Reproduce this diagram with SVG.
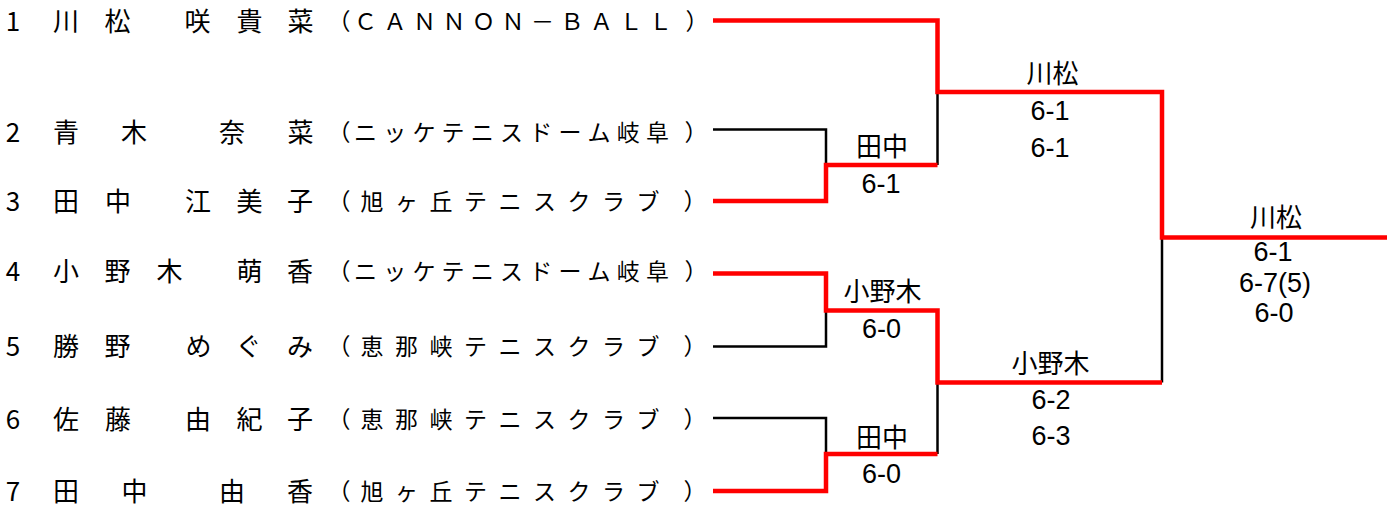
<svg xmlns="http://www.w3.org/2000/svg" width="1397" height="509" viewBox="0 0 1397 509">
<style>
text{font-family:"Noto Sans CJK JP","Noto Sans CJK SC",sans-serif;fill:#000;text-anchor:middle}
.n{font-size:26px}
.c{font-size:23px}
.lb{font-size:26px}
.s{font-family:"Liberation Sans",Arial,sans-serif;font-size:27px}
.l{stroke:#000;stroke-width:2.5;fill:none}
.w{stroke:#f00;stroke-width:4.5;fill:none;stroke-linejoin:miter}
</style>
<rect width="1397" height="509" fill="#fff"/>
<g id="connectors">
<path class="l" d="M713 129.5H826V165"/>
<path class="l" d="M713 346.5H826V310.5"/>
<path class="l" d="M713 418H826V454"/>
<path class="l" d="M937.5 92V165"/>
<path class="l" d="M937.5 382.5V454"/>
<path class="l" d="M1162 237.5V382.5"/>
<path class="w" d="M713 20.5H937.5V92H1162V237.5H1387"/>
<path class="w" d="M713 201H826V165H937.5"/>
<path class="w" d="M713 273.5H826V310.5H937.5V382.5H1162"/>
<path class="w" d="M713 491H826V454H937.5"/>
</g>
<g id="p1">
<text class="n" x="13" y="30.5">1</text>
<text class="n" x="66 117.5 157 197.5 249.5 300.5" y="30.5">川松　咲貴菜</text>
<text class="c" x="339 365.5 395 424.5 454 483.5 513 542.5 572 601.5 631 660.5 697" y="29.5">（ＣＡＮＮＯＮ－ＢＡＬＬ）</text>
</g>
<g id="p2">
<text class="n" x="13" y="142">2</text>
<text class="n" x="66 134 183 232 300.5" y="142">青木　奈菜</text>
<text class="c" x="339 365.5 394.7 423.9 453.1 482.3 511.5 540.7 569.9 599.1 628.3 657.5 696" y="141">（ニッケテニスドーム岐阜）</text>
</g>
<g id="p3">
<text class="n" x="13" y="211">3</text>
<text class="n" x="66 118 158 198 249.5 300" y="211">田中　江美子</text>
<text class="c" x="339 372 406.5 441 475.5 510 544.5 579 613.5 648 695" y="210">（旭ヶ丘テニスクラブ）</text>
</g>
<g id="p4">
<text class="n" x="13" y="281">4</text>
<text class="n" x="66 117.5 169.5 209 249.5 300" y="281">小野木　萌香</text>
<text class="c" x="339 365.5 394.7 423.9 453.1 482.3 511.5 540.7 569.9 599.1 628.3 657.5 696" y="280">（ニッケテニスドーム岐阜）</text>
</g>
<g id="p5">
<text class="n" x="13" y="356">5</text>
<text class="n" x="66 117.5 158 198.5 248.5 300" y="356">勝野　めぐみ</text>
<text class="c" x="339 372 406.5 441 475.5 510 544.5 579 613.5 648 695" y="355">（恵那峡テニスクラブ）</text>
</g>
<g id="p6">
<text class="n" x="13" y="428.5">6</text>
<text class="n" x="66 118 158 198 249.5 300" y="428.5">佐藤　由紀子</text>
<text class="c" x="339 372 406.5 441 475.5 510 544.5 579 613.5 648 695" y="427.5">（恵那峡テニスクラブ）</text>
</g>
<g id="p7">
<text class="n" x="13" y="500.5">7</text>
<text class="n" x="66 134.5 183 232 300" y="500.5">田中　由香</text>
<text class="c" x="339 372 406.5 441 475.5 510 544.5 579 613.5 648 695" y="499.5">（旭ヶ丘テニスクラブ）</text>
</g>
<g id="m1">
<text class="lb" x="882" y="156">田中</text>
<text class="s" x="881" y="193">6-1</text>
</g>
<g id="m2">
<text class="lb" x="882.5" y="301">小野木</text>
<text class="s" x="881.5" y="338">6-0</text>
</g>
<g id="m3">
<text class="lb" x="882" y="447">田中</text>
<text class="s" x="881.5" y="483">6-0</text>
</g>
<g id="sf1">
<text class="lb" x="1052.5" y="83">川松</text>
<text class="s" x="1050" y="120">6-1</text>
<text class="s" x="1050" y="157">6-1</text>
</g>
<g id="sf2">
<text class="lb" x="1050.5" y="373">小野木</text>
<text class="s" x="1051" y="409">6-2</text>
<text class="s" x="1051" y="445">6-3</text>
</g>
<g id="final">
<text class="lb" x="1276" y="227">川松</text>
<text class="s" x="1273" y="261">6-1</text>
<text class="s" x="1275" y="292">6-7(5)</text>
<text class="s" x="1274" y="322">6-0</text>
</g>
</svg>
